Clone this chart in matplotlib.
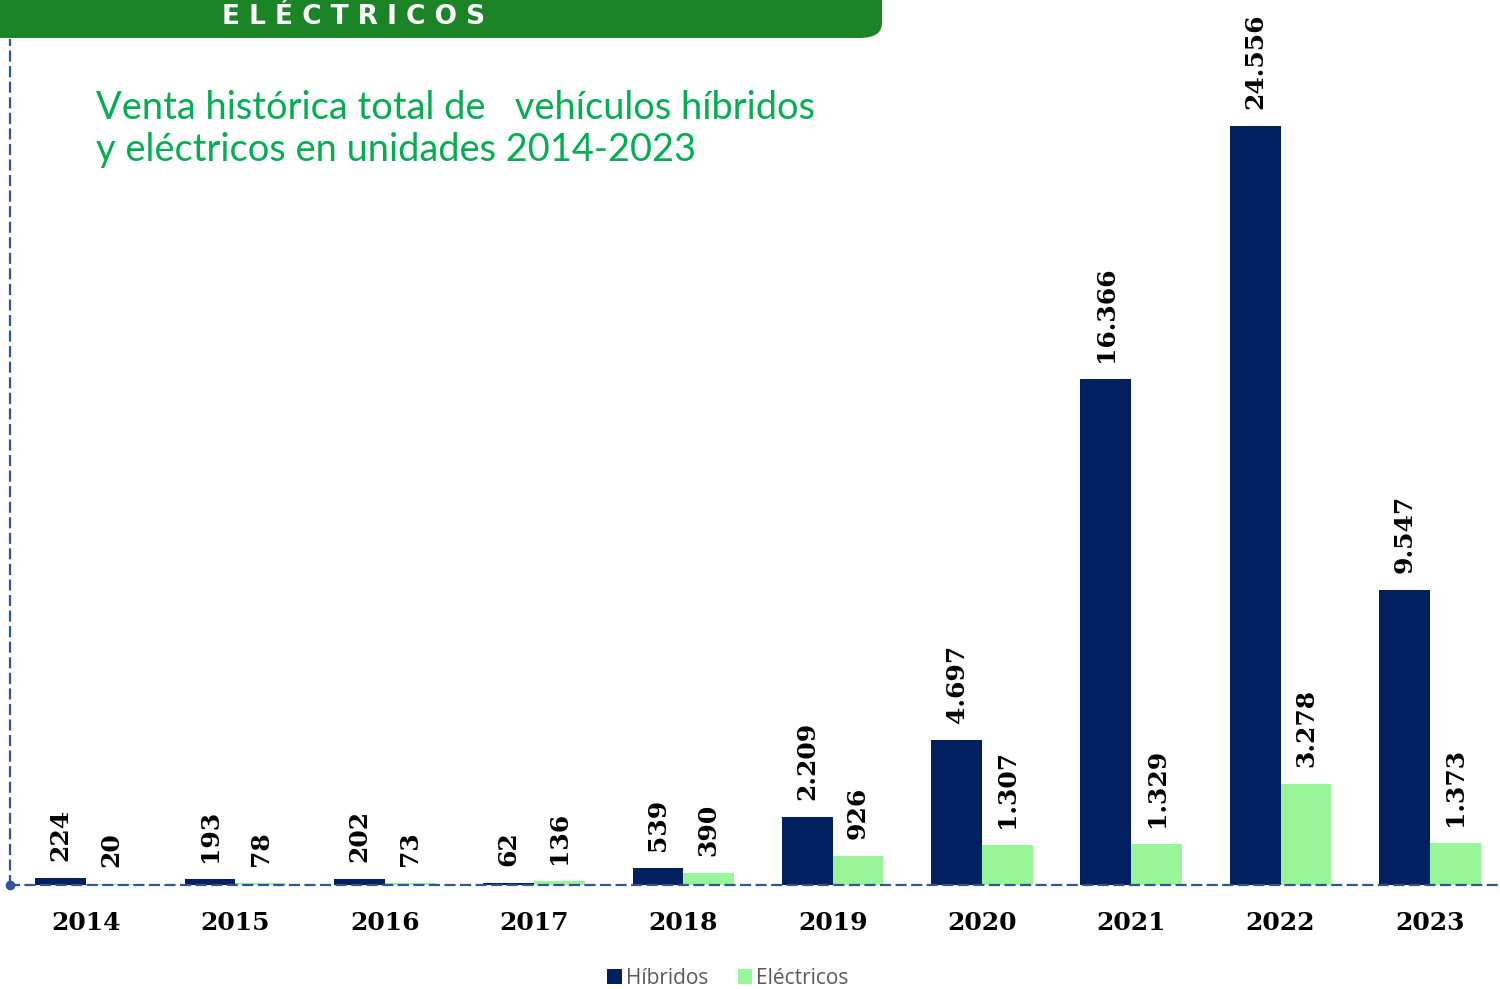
import matplotlib.pyplot as plt
from matplotlib.patches import FancyBboxPatch
import numpy as np

years = ['2014', '2015', '2016', '2017', '2018', '2019', '2020', '2021', '2022', '2023']
hibridos = [224, 193, 202, 62, 539, 2209, 4697, 16366, 24556, 9547]
electricos = [20, 78, 73, 136, 390, 926, 1307, 1329, 3278, 1373]

c_hib = '#002060'
c_ele = '#98f598'
c_axis = '#2f5597'


def fmt(v):
    return f'{v:,}'.replace(',', '.')


fig = plt.figure(figsize=(15, 9.89), dpi=100)
W, H = 1500, 989

# axes placed so the baseline sits at y=885 px and top at y=40 px
ax = fig.add_axes([10 / W, (H - 885) / H, (1500 - 10) / W, (885 - 40) / H])
x = np.arange(len(years))
bw = 0.34
ax.bar(x - bw / 2, hibridos, bw, color=c_hib, label='Híbridos', zorder=2)
ax.bar(x + bw / 2, electricos, bw, color=c_ele, label='Eléctricos', zorder=2)
ax.set_xlim(-0.51, 9.47)
ax.set_ylim(0, 24556 * (885 - 40) / 759)

off = 24556 * 17 / 759
for i in range(len(years)):
    ax.text(x[i] - bw / 2, hibridos[i] + off, fmt(hibridos[i]), rotation=90,
            ha='center', va='bottom', fontsize=18, fontweight='bold',
            family='DejaVu Serif', color='black')
    ax.text(x[i] + bw / 2, electricos[i] + off, fmt(electricos[i]), rotation=90,
            ha='center', va='bottom', fontsize=18, fontweight='bold',
            family='DejaVu Serif', color='black')

for s in ['top', 'right']:
    ax.spines[s].set_visible(False)
for s in ['left', 'bottom']:
    ax.spines[s].set_color(c_axis)
    ax.spines[s].set_linestyle((0, (4, 3)))
    ax.spines[s].set_linewidth(1.6)
    ax.spines[s].set_zorder(3)
ax.plot([-0.51], [0], 'o', color=c_axis, markersize=6, clip_on=False, zorder=4)
ax.set_yticks([])
ax.set_xticks(x)
ax.set_xticklabels(years, fontsize=18, fontweight='bold', family='DejaVu Serif')
ax.tick_params(axis='x', length=0, pad=19)

leg = fig.legend(loc='center', bbox_to_anchor=(728 / W, 1 - 978 / H), ncol=2,
                 frameon=False, handlelength=0.7, handleheight=0.7,
                 handletextpad=0.2, columnspacing=1.4,
                 prop={'family': 'Open Sans', 'size': 15})
for t in leg.get_texts():
    t.set_color('#595959')

# title
fig.text(96 / W, 1 - 108 / H, 'Venta histórica total de   vehículos híbridos',
         fontsize=27.4, color='#00b050', family='Lato', va='center', ha='left')
fig.text(96 / W, 1 - 150 / H, 'y eléctricos en unidades 2014-2023',
         fontsize=27.4, color='#00b050', family='Lato', va='center', ha='left')

# green banner at top
banner = FancyBboxPatch((-20 / W, 1 - 38 / H), 902 / W, 60 / H,
                        boxstyle='round,pad=0,rounding_size=0.015',
                        transform=fig.transFigure, facecolor='#1b8426',
                        edgecolor='none', zorder=0)
fig.patches.append(banner)
fig.text(354 / W, 1 - 17 / H, 'E L É C T R I C O S', fontsize=19, fontweight='bold',
         color='white', ha='center', va='center', family='DejaVu Sans')

fig.savefig('out.png', dpi=100)
